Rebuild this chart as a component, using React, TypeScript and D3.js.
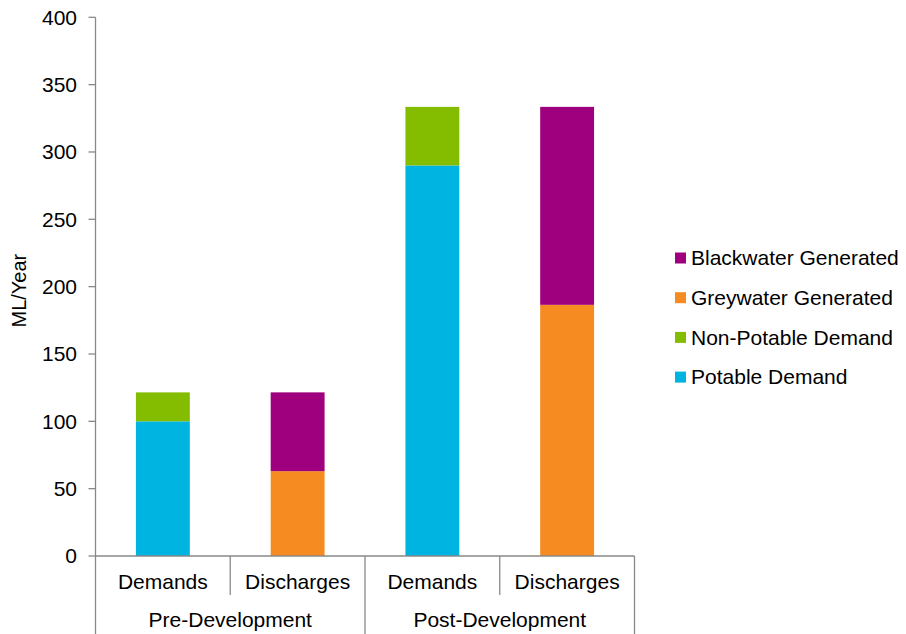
import React from "react";
import * as d3 from "d3";

// Chart data
const categories = ["Demands", "Discharges", "Demands", "Discharges"];
const groups = ["Pre-Development", "Post-Development"];
const seriesNames = ["Potable Demand", "Non-Potable Demand", "Greywater Generated", "Blackwater Generated"];
const potableDemand = [100, 0, 290, 0];
const nonPotableDemand = [21.5, 0, 43.5, 0];
const greywaterGenerated = [0, 63, 0, 186.5];
const blackwaterGenerated = [0, 58.5, 0, 147];
const yTicks = [0, 50, 100, 150, 200, 250, 300, 350, 400];
const seriesColors = ["#00B4E1", "#84BD00", "#F68B22", "#9E007E"];

const W = 906;
const H = 634;
const FONT = "'Liberation Sans', Arial, sans-serif";
const AXIS = "#898989";
const FS = 21;

export default function App() {
  const plotLeft = 95.5;
  const plotRight = 634.5;
  const y = d3.scaleLinear().domain([0, 400]).range([556, 17.3]);
  const x = d3
    .scaleBand<number>()
    .domain(categories.map((_, i) => i))
    .range([plotLeft, plotRight])
    .padding(0);
  const barW = x.bandwidth() * 0.4;

  const rows = categories.map((c, i) => ({
    idx: i,
    [seriesNames[0]]: potableDemand[i],
    [seriesNames[1]]: nonPotableDemand[i],
    [seriesNames[2]]: greywaterGenerated[i],
    [seriesNames[3]]: blackwaterGenerated[i],
  }));
  const stacked = d3.stack<any>().keys(seriesNames)(rows);

  const y0 = y(0);
  const groupBottom = H;

  return (
    <svg
      width={W}
      height={H}
      style={{ position: "absolute", left: 0, top: 0, background: "#fff" }}
      fontFamily={FONT}
    >
      {/* stacked bars */}
      {stacked.map((layer, si) => (
        <g key={seriesNames[si]} fill={seriesColors[si]}>
          {layer.map((d, i) => {
            const h = y(d[0]) - y(d[1]);
            if (h <= 0) return null;
            const cx = (x(i) as number) + x.bandwidth() / 2;
            return <rect key={i} x={cx - barW / 2} y={y(d[1])} width={barW} height={h} />;
          })}
        </g>
      ))}

      {/* y axis */}
      <line x1={plotLeft} x2={plotLeft} y1={y(400)} y2={y0} stroke={AXIS} strokeWidth={1.3} />
      {yTicks.map((t) => (
        <g key={t}>
          <line x1={plotLeft - 7} x2={plotLeft} y1={y(t)} y2={y(t)} stroke={AXIS} strokeWidth={1.3} />
          <text x={77} y={y(t)} dy="0.35em" textAnchor="end" fontSize={FS} fill="#000">
            {t}
          </text>
        </g>
      ))}
      <text
        transform={`translate(26,${(y(0) + y(400)) / 2 + 4}) rotate(-90)`}
        textAnchor="middle"
        fontSize={20}
        fill="#000"
      >
        ML/Year
      </text>

      {/* x axis with grouped category labels */}
      <line x1={plotLeft} x2={plotRight} y1={y0} y2={y0} stroke={AXIS} strokeWidth={1.3} />
      {categories.map((c, i) => {
        const bx = x(i) as number;
        const isGroupEdge = i % 2 === 0;
        return (
          <g key={i}>
            <line
              x1={bx}
              x2={bx}
              y1={y0}
              y2={isGroupEdge ? groupBottom : 595}
              stroke={AXIS}
              strokeWidth={1.3}
            />
            <text x={bx + x.bandwidth() / 2} y={582} dy="0.35em" textAnchor="middle" fontSize={FS} fill="#000">
              {c}
            </text>
          </g>
        );
      })}
      <line x1={plotRight} x2={plotRight} y1={y0} y2={groupBottom} stroke={AXIS} strokeWidth={1.3} />
      {groups.map((g, gi) => {
        const gx0 = x(gi * 2) as number;
        const gx1 = (x(gi * 2 + 1) as number) + x.bandwidth();
        return (
          <text key={g} x={(gx0 + gx1) / 2} y={620} dy="0.35em" textAnchor="middle" fontSize={FS} fill="#000">
            {g}
          </text>
        );
      })}

      {/* legend, top-most series first */}
      {seriesNames
        .map((n, i) => ({ n, c: seriesColors[i] }))
        .reverse()
        .map((s, i) => {
          const cy = 258 + i * 39.7;
          return (
            <g key={s.n}>
              <rect x={675} y={cy - 5.5} width={11} height={11} fill={s.c} />
              <text x={691} y={cy} dy="0.35em" fontSize={FS} fill="#000">
                {s.n}
              </text>
            </g>
          );
        })}
    </svg>
  );
}
